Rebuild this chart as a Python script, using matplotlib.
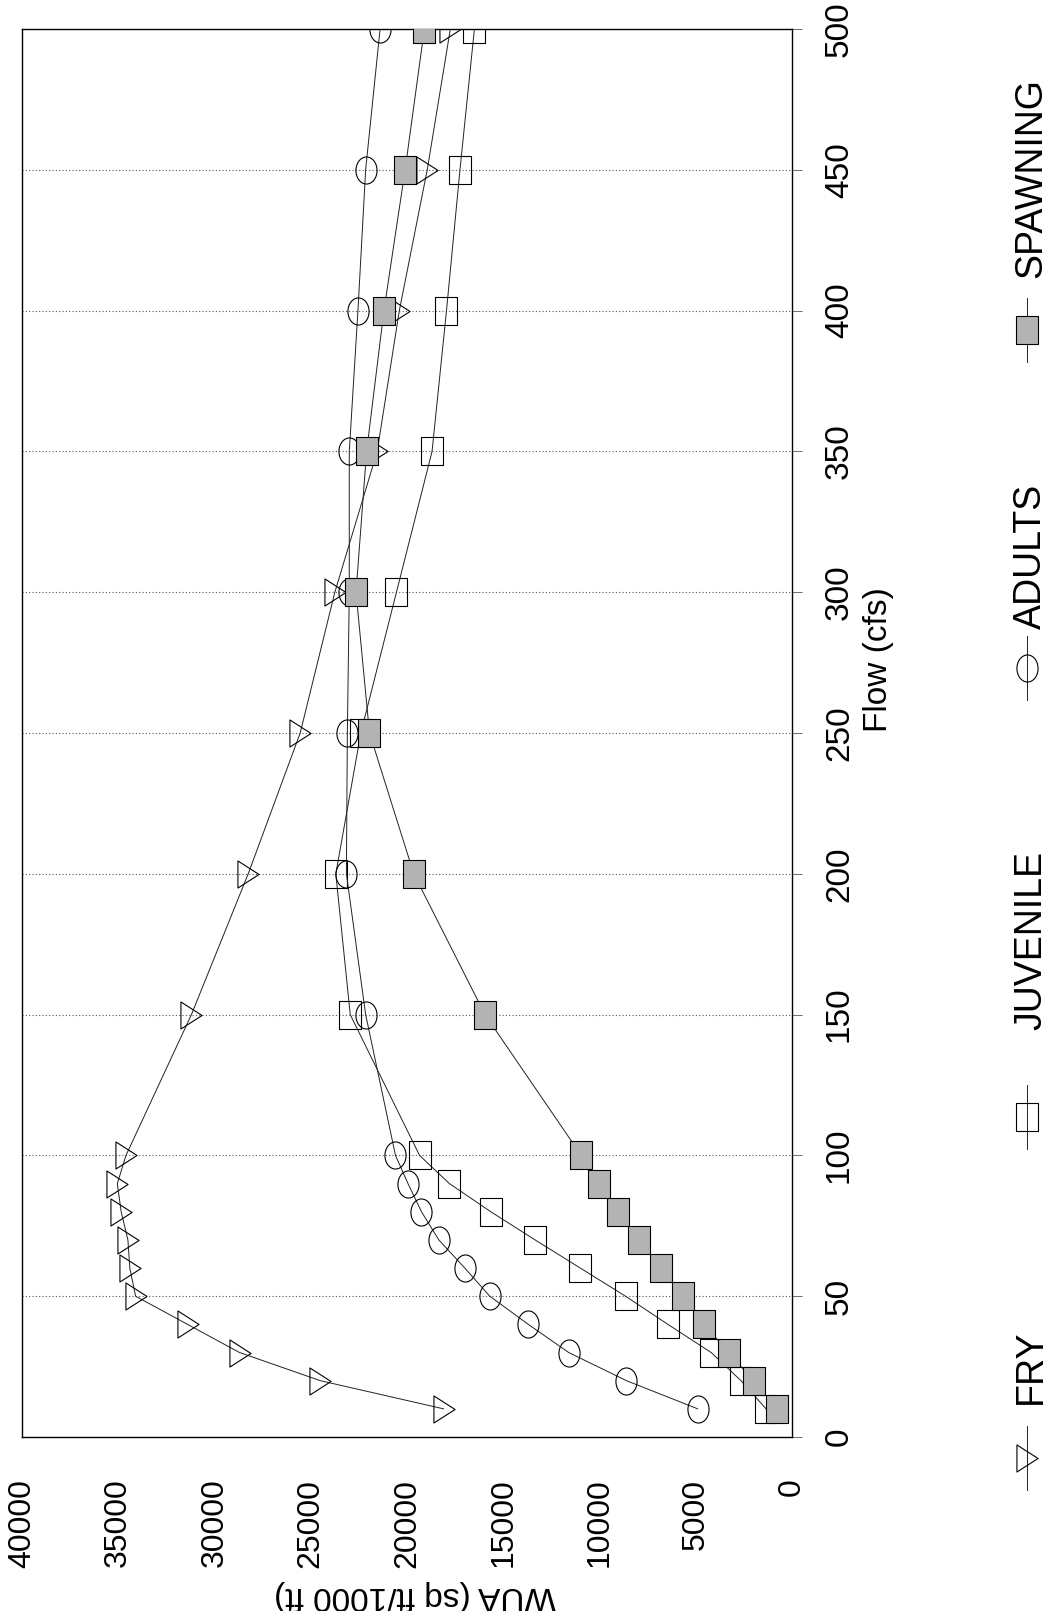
import matplotlib
matplotlib.use("Agg")
import matplotlib.pyplot as plt
from matplotlib.path import Path
from matplotlib.transforms import Affine2D
from matplotlib.lines import Line2D

plt.rcParams['font.family'] = ['Liberation Sans Narrow', 'Liberation Sans', 'DejaVu Sans']

# -------------------------
# data
# -------------------------
flow = [10, 20, 30, 40, 50, 60, 70, 80, 90, 100, 150, 200, 250, 300, 350, 400, 450, 500]
fry = [18100, 24500, 28700, 31400, 34100, 34400, 34500, 34850, 35050, 34600,
       31200, 28250, 25550, 23750, 21550, 20400, 18950, 17750]
juvenile = [1350, 2650, 4200, 6450, 8650, 11000, 13350, 15650, 17800, 19350,
            22950, 23700, 22400, 20550, 18700, 17950, 17250, 16500]
adults = [4900, 8600, 11600, 13700, 15700, 17000, 18350, 19250, 19950, 20600,
          22150, 23150, 23100, 23000, 23000, 22550, 22150, 21400]
spawning = [770, 2000, 3300, 4550, 5650, 6800, 7950, 9050, 10050, 10950,
            15950, 19650, 21950, 22650, 22100, 21200, 20100, 19100]

series_names = ["FRY", "JUVENILE", "ADULTS", "SPAWNING"]
wua_ticks = list(range(0, 40001, 5000))
flow_ticks = list(range(0, 501, 50))

# -------------------------
# markers (stretched along the flow axis, like the scan)
# -------------------------
ASPECT = 0.78
tri = Path([(-0.5 * ASPECT, -0.5), (-0.5 * ASPECT, 0.5), (0.5 * ASPECT, 0.0), (-0.5 * ASPECT, -0.5)],
           [Path.MOVETO, Path.LINETO, Path.LINETO, Path.CLOSEPOLY])
sq = Path([(-0.5 * ASPECT, -0.5), (0.5 * ASPECT, -0.5), (0.5 * ASPECT, 0.5),
           (-0.5 * ASPECT, 0.5), (-0.5 * ASPECT, -0.5)],
          [Path.MOVETO, Path.LINETO, Path.LINETO, Path.LINETO, Path.CLOSEPOLY])
circ = Path.unit_circle().transformed(Affine2D().scale(ASPECT, 1.0))

MS = 19.5
styles = {
    "FRY": dict(marker=tri, mfc="none"),
    "JUVENILE": dict(marker=sq, mfc="none"),
    "ADULTS": dict(marker=circ, mfc="none"),
    "SPAWNING": dict(marker=sq, mfc="#b3b3b3"),
}
common = dict(color="#222222", lw=0.7, ms=MS, mec="black", mew=0.8)

fig = plt.figure(figsize=(10.64, 16.11), dpi=100)
ax = fig.add_axes([0.0207, 0.108, 0.7237, 0.874])

values = [fry, juvenile, adults, spawning]
for i, (name, vals) in enumerate(zip(series_names, values)):
    ax.plot(vals, flow, zorder=3 + i, **styles[name], **common)

ax.set_xlim(40000, 0)
ax.set_ylim(0, 500)

ax.set_xticks(wua_ticks)
ax.set_xticklabels([str(t) for t in wua_ticks])
ax.tick_params(axis="x", length=0, pad=30, labelsize=23, labelrotation=90)

ax.yaxis.tick_right()
ax.set_yticks(flow_ticks)
ax.set_yticklabels([str(t) for t in flow_ticks])
ax.tick_params(axis="y", length=7, width=0.6, color="#555555", direction="out",
               pad=16, labelsize=24, labelrotation=90)
for lbl in ax.get_yticklabels():
    lbl.set_va("center")

ax.grid(axis="y", linestyle=(0, (1, 2)), color="#555555", lw=0.8)
for s in ax.spines.values():
    s.set_linewidth(1.0)
    s.set_color("black")

ax.yaxis.set_label_position("right")
ax.set_ylabel("Flow (cfs)", fontsize=24, rotation=90)
ax.yaxis.set_label_coords(1.112, 0.552)
ax.yaxis.label.set_va("center")
ax.yaxis.label.set_ha("center")

ax.set_xlabel("WUA (sq ft/1000 ft)", fontsize=24, rotation=180)
ax.xaxis.set_label_coords(0.51, -0.1125)
ax.xaxis.label.set_va("center")

# -------------------------
# legend, drawn as a vertical column on the right
# -------------------------
W, H = 1064.0, 1611.0
leg_x = 1027
# (marker centre, start of the text) in pixels from the top
leg_pos = {"FRY": (1458, 1404), "JUVENILE": (1117, 1030),
           "ADULTS": (668, 629), "SPAWNING": (330, 278)}
for name in series_names:
    y, ty = leg_pos[name]
    fx = leg_x / W
    fig.add_artist(Line2D([fx, fx], [1 - (y - 32) / H, 1 - (y + 32) / H],
                          transform=fig.transFigure, color="#222222", lw=0.7))
    fig.add_artist(Line2D([fx], [1 - y / H], transform=fig.transFigure,
                          **styles[name], ms=MS, mec="black", mew=0.8, lw=0))
    fig.text((leg_x + 4) / W, 1 - ty / H, name, rotation=90,
             ha="center", va="bottom", fontsize=27)

fig.savefig("out.png", dpi=100)
